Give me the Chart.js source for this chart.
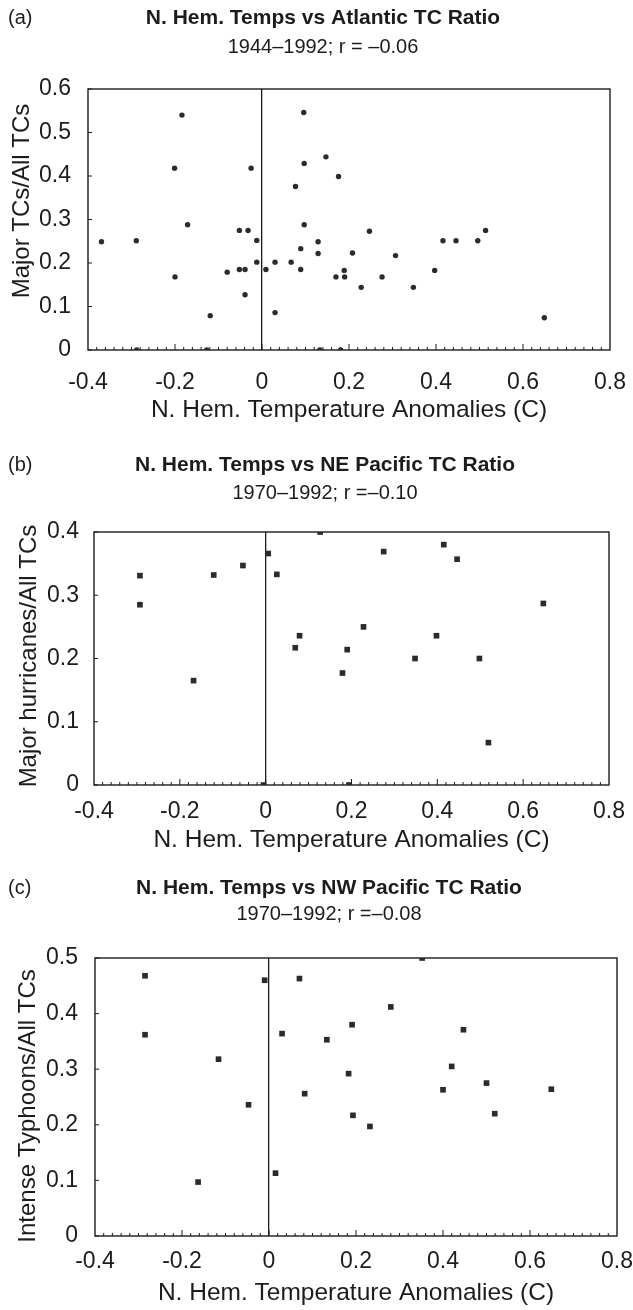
<!DOCTYPE html>
<html>
<head>
<meta charset="utf-8">
<script src="https://cdn.jsdelivr.net/npm/chart.js@4.4.1/dist/chart.umd.min.js"></script>
<style>
  html, body { margin: 0; padding: 0; background: #ffffff; }
  body { width: 633px; height: 1310px; position: relative; overflow: hidden; }
  .panel { position: absolute; left: 0; width: 633px; }
  canvas { display: block; }
</style>
</head>
<body>
<div class="panel" style="top:0px;height:430px"><canvas id="chartA" width="633" height="430"></canvas></div>
<div class="panel" style="top:440px;height:420px"><canvas id="chartB" width="633" height="420"></canvas></div>
<div class="panel" style="top:865px;height:445px"><canvas id="chartC" width="633" height="445"></canvas></div>
<script>
// Shared x-axis ticks (N. Hem. temperature anomalies, deg C)
const xTickValues = [-0.4, -0.2, 0, 0.2, 0.4, 0.6, 0.8];

// (a) Atlantic, 1944-1992: temperature anomaly vs major TCs / all TCs
const atlanticTemp = [
  -0.369, -0.289, -0.288, -0.184, -0.201, -0.171, -0.200, -0.127, -0.119, -0.080,
  -0.052, -0.032, -0.052, -0.039, -0.039, -0.025, -0.012, -0.012, 0.009, 0.030,
  0.030, 0.067, 0.077, 0.089, 0.089, 0.096, 0.097, 0.097, 0.129, 0.129,
  0.133, 0.147, 0.176, 0.170, 0.190, 0.189, 0.181, 0.208, 0.228, 0.247,
  0.276, 0.307, 0.348, 0.397, 0.416, 0.446, 0.496, 0.514, 0.649
];
const atlanticRatio = [
  0.249, 0.251, 0.000, 0.540, 0.418, 0.288, 0.168, 0.000, 0.079, 0.179,
  0.275, 0.275, 0.185, 0.185, 0.127, 0.418, 0.252, 0.202, 0.185, 0.202,
  0.086, 0.202, 0.376, 0.233, 0.185, 0.546, 0.429, 0.288, 0.249, 0.222,
  0.000, 0.444, 0.399, 0.168, 0.168, 0.183, 0.000, 0.223, 0.144, 0.273,
  0.168, 0.217, 0.144, 0.183, 0.251, 0.251, 0.251, 0.275, 0.074
];
const atlanticYTicks = [0, 0.1, 0.2, 0.3, 0.4, 0.5, 0.6];

// (b) NE Pacific, 1970-1992: temperature anomaly vs major hurricanes / all TCs
const nePacificTemp = [
  -0.293, -0.293, -0.168, -0.121, -0.053, -0.005, 0.006, 0.026, 0.069, 0.079,
  0.127, 0.179, 0.190, 0.194, 0.228, 0.275, 0.348, 0.398, 0.415, 0.446,
  0.498, 0.519, 0.647
];
const nePacificRatio = [
  0.331, 0.285, 0.165, 0.332, 0.347, 0.000, 0.366, 0.333, 0.217, 0.236,
  0.400, 0.177, 0.214, 0.000, 0.250, 0.369, 0.200, 0.236, 0.380, 0.357,
  0.200, 0.067, 0.287
];
const nePacificYTicks = [0, 0.1, 0.2, 0.3, 0.4];

// (c) NW Pacific, 1970-1992: temperature anomaly vs intense typhoons / all TCs
const nwPacificTemp = [
  -0.285, -0.285, -0.163, -0.116, -0.047, -0.010, 0.015, 0.030, 0.070, 0.082,
  0.133, 0.183, 0.191, 0.193, 0.232, 0.280, 0.352, 0.400, 0.420, 0.447,
  0.500, 0.519, 0.649
];
const nwPacificRatio = [
  0.468, 0.362, 0.097, 0.318, 0.236, 0.460, 0.113, 0.364, 0.463, 0.256,
  0.353, 0.292, 0.380, 0.217, 0.197, 0.412, 0.500, 0.263, 0.305, 0.371,
  0.275, 0.220, 0.264
];
const nwPacificYTicks = [0, 0.1, 0.2, 0.3, 0.4, 0.5];

const FONT = "'Liberation Sans', Arial, Helvetica, sans-serif";
const INK = '#1c1c1c';
const DOT = '#2b2b2b';
const CLEAR = 'rgba(0,0,0,0)';

const TITLE_SIZE = 21, SUB_SIZE = 20, TICK_SIZE = 23, XTITLE_SIZE = 24.5, YTITLE_SIZE = 24;

function fmt(v) {
  const r = Math.round(v * 10) / 10;
  return r === 0 ? '0' : String(r);
}

// Plot frame, inward tick marks, and the panel headings / y-axis caption
const panelDecor = {
  id: 'panelDecor',
  beforeDatasetsDraw(chart) {
    const { ctx, chartArea: a, scales: { x, y } } = chart;
    ctx.save();
    ctx.strokeStyle = INK;
    ctx.lineWidth = 1.4;
    ctx.strokeRect(a.left, a.top, a.right - a.left, a.bottom - a.top);
    ctx.lineWidth = 1;
    for (let i = -20; i <= 40; i++) {
      const px = x.getPixelForValue(i * 0.02);
      if (px <= a.left + 1 || px >= a.right - 1) continue;
      const len = (i % 10 === 0) ? 6 : 3;
      ctx.beginPath();
      ctx.moveTo(px, a.bottom);
      ctx.lineTo(px, a.bottom - len);
      ctx.stroke();
    }
    y.ticks.forEach(t => {
      const py = y.getPixelForValue(t.value);
      ctx.beginPath();
      ctx.moveTo(a.left, py);
      ctx.lineTo(a.left + 4, py);
      ctx.stroke();
    });
    ctx.restore();
  },
  afterDraw(chart) {
    const o = chart.options.plugins.panelDecor;
    const ctx = chart.ctx;
    ctx.save();
    ctx.fillStyle = INK;
    ctx.textBaseline = 'middle';

    ctx.textAlign = 'left';
    ctx.font = '20px ' + FONT;
    ctx.fillText(o.letter, 8, o.titleY);

    ctx.textAlign = 'center';
    ctx.font = 'bold ' + TITLE_SIZE + 'px ' + FONT;
    ctx.fillText(o.title, o.titleX, o.titleY);
    ctx.font = SUB_SIZE + 'px ' + FONT;
    ctx.fillText(o.subtitle, o.titleX, o.subY);

    ctx.translate(o.yTitleX, o.yTitleY);
    ctx.rotate(-Math.PI / 2);
    ctx.font = YTITLE_SIZE + 'px ' + FONT;
    ctx.fillText(o.yTitle, 0, 0);
    ctx.restore();
  }
};

function makePanel(id, g) {
  // g: geometry in canvas-local pixels
  const H = g.height;
  const xTickLen = g.xLabelY - g.bottom - TICK_SIZE * 0.6;
  const xTitlePadBottom = H - g.xTitleY - XTITLE_SIZE * 0.6;

  return new Chart(document.getElementById(id), {
    type: 'scatter',
    data: {
      datasets: [{
        data: g.xs.map((v, i) => ({ x: v, y: g.ys[i] })),
        pointStyle: g.pointStyle,
        pointRadius: g.pointRadius,
        pointHoverRadius: g.pointRadius,
        backgroundColor: DOT,
        borderColor: DOT,
        borderWidth: 0
      }]
    },
    options: {
      responsive: false,
      animation: false,
      events: [],
      layout: { padding: { top: g.top, bottom: 0, left: 0, right: 633 - g.right } },
      plugins: {
        legend: { display: false },
        tooltip: { enabled: false },
        title: { display: false },
        panelDecor: {
          letter: g.letter, title: g.title, subtitle: g.subtitle,
          titleX: g.titleX, titleY: g.titleY, subY: g.subY,
          yTitle: g.yTitle, yTitleX: g.yTitleX, yTitleY: g.yTitleY
        }
      },
      scales: {
        x: {
          type: 'linear',
          min: -0.4,
          max: 0.8,
          afterBuildTicks: s => { s.ticks = xTickValues.map(v => ({ value: v })); },
          afterFit: s => { s.height = H - g.bottom; },
          border: { display: false },
          grid: {
            drawTicks: true,
            tickLength: xTickLen,
            tickColor: CLEAR,
            lineWidth: 1.3,
            color: c => (c.tick && Math.abs(c.tick.value) < 1e-9) ? INK : CLEAR
          },
          ticks: {
            color: INK,
            padding: 0,
            maxRotation: 0,
            autoSkip: false,
            font: { family: FONT, size: TICK_SIZE, lineHeight: 1.2 },
            callback: v => fmt(v)
          },
          title: {
            display: true,
            text: 'N. Hem. Temperature Anomalies (C)',
            color: INK,
            font: { family: FONT, size: XTITLE_SIZE, lineHeight: 1.2 },
            padding: { top: 0, bottom: xTitlePadBottom }
          }
        },
        y: {
          type: 'linear',
          min: 0,
          max: g.yTicks[g.yTicks.length - 1],
          afterBuildTicks: s => { s.ticks = g.yTicks.map(v => ({ value: v })); },
          afterFit: s => { s.width = g.left; },
          border: { display: false },
          grid: {
            drawOnChartArea: false,
            drawTicks: true,
            tickLength: g.left - g.yLabelRight,
            tickColor: CLEAR,
            color: CLEAR
          },
          ticks: {
            color: INK,
            padding: 0,
            autoSkip: false,
            font: { family: FONT, size: TICK_SIZE, lineHeight: 1.2 },
            callback: v => fmt(v)
          }
        }
      }
    },
    plugins: [panelDecor]
  });
}

makePanel('chartA', {
  height: 430, titleX: 323, titleY: 18, subY: 47, top: 89, bottom: 350, left: 88, right: 610,
  xLabelY: 383, xTitleY: 410, yTitleX: 22, yTitleY: 201, yLabelRight: 71,
  title: 'N. Hem. Temps vs Atlantic TC Ratio', subtitle: '1944–1992; r = –0.06', letter: '(a)',
  yTitle: 'Major TCs/All TCs', yTicks: atlanticYTicks,
  xs: atlanticTemp, ys: atlanticRatio, pointStyle: 'circle', pointRadius: 2.7
});

makePanel('chartB', {
  height: 420, titleX: 325, titleY: 465 - 440, subY: 493 - 440, top: 532 - 440, bottom: 785 - 440, left: 94, right: 609,
  xLabelY: 812 - 440, xTitleY: 840 - 440, yTitleX: 29, yTitleY: 656 - 440, yLabelRight: 79,
  title: 'N. Hem. Temps vs NE Pacific TC Ratio', subtitle: '1970–1992; r =–0.10', letter: '(b)',
  yTitle: 'Major hurricanes/All TCs', yTicks: nePacificYTicks,
  xs: nePacificTemp, ys: nePacificRatio, pointStyle: 'rect', pointRadius: 4
});

makePanel('chartC', {
  height: 445, titleX: 329, titleY: 888 - 865, subY: 914 - 865, top: 958 - 865, bottom: 1236 - 865, left: 95, right: 617,
  xLabelY: 1262 - 865, xTitleY: 1293 - 865, yTitleX: 28, yTitleY: 1106 - 865, yLabelRight: 78,
  title: 'N. Hem. Temps vs NW Pacific TC Ratio', subtitle: '1970–1992; r =–0.08', letter: '(c)',
  yTitle: 'Intense Typhoons/All TCs', yTicks: nwPacificYTicks,
  xs: nwPacificTemp, ys: nwPacificRatio, pointStyle: 'rect', pointRadius: 4
});
</script>
</body>
</html>
